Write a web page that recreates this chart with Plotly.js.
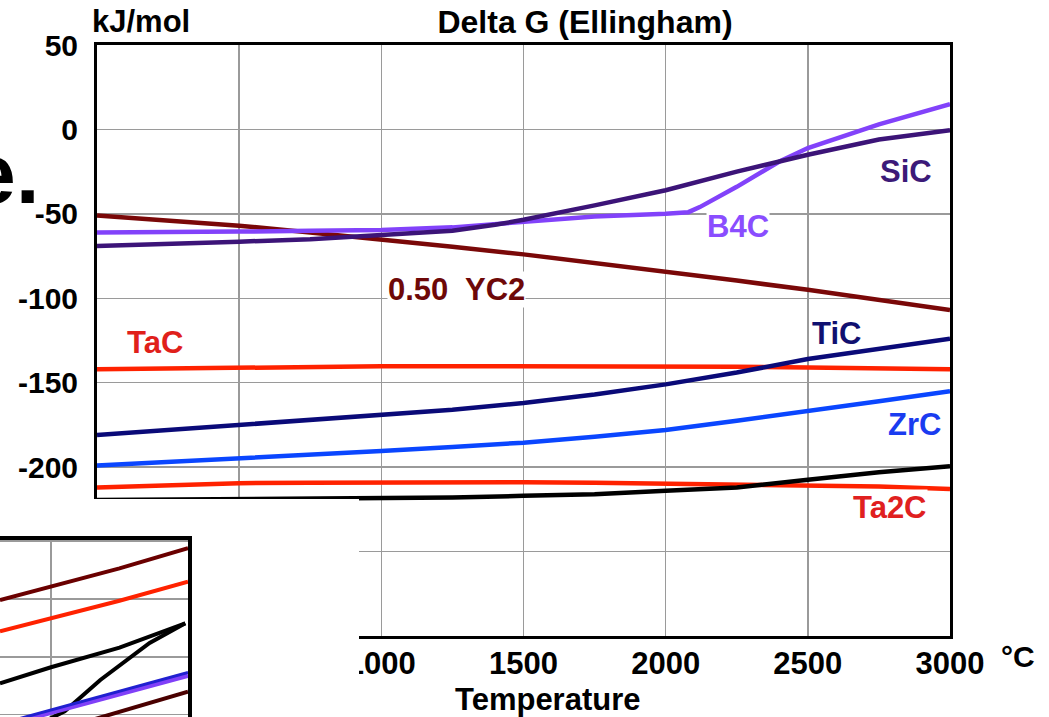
<!DOCTYPE html>
<html>
<head>
<meta charset="utf-8">
<script src="https://cdn.plot.ly/plotly-3.0.1.min.js"></script>
<style>html,body{margin:0;padding:0;background:#fff;}#chart{width:1049px;height:717px;}</style>
</head>
<body>
<div id="chart"></div>
<script>
// ---- main chart data (temperature in °C, ΔG in kJ/mol) ----
const temps = [0, 250, 500, 750, 1000, 1250, 1500, 1750, 2000, 2250, 2500, 2750, 3000];
const sicTemps = [0, 250, 500, 750, 1000, 1250, 1400, 1500, 1750, 2000, 2250, 2500, 2750, 3000];
const sicDG = [-69, -68, -66.5, -65, -62.5, -60, -56.5, -53.5, -45, -36, -25, -15, -6, -0.5];
const b4cTemps = [0, 250, 500, 750, 1000, 1250, 1500, 1750, 2000, 2080, 2120, 2250, 2400, 2500, 2750, 3000];
const b4cDG = [-61, -61, -60.5, -60, -59.5, -58, -55, -51.5, -50, -49, -46, -34, -19, -11, 3, 15];
const yc2DG = [-51, -54, -57, -61, -65, -69.5, -74, -79, -84, -89.5, -95, -101, -107];
const tacDG = [-142, -141.5, -141, -140.5, -140.3, -140.2, -140.2, -140.2, -140.3, -140.6, -141, -141.5, -142];
const ticDG = [-181, -178, -175.5, -172.5, -169.5, -166, -162, -157, -151, -144, -136, -130, -124];
const zrcDG = [-199, -197, -194.5, -192.5, -190.5, -188, -185.5, -182, -178, -172.5, -167, -161, -155];
const ta2cDG = [-212, -210.5, -209.5, -209.2, -209, -209, -209, -209.3, -209.8, -210.5, -211, -211.5, -213];
const blackDG = [-219.5, -219.2, -219, -218.8, -218.5, -218, -217, -216, -214, -212, -207.5, -203, -199.5];

const xTickVals = [0, 500, 1000, 1500, 2000, 2500, 3000];
const xTickText = ['0', '500', '1000', '1500', '2000', '2500', '3000'];
const yTickVals = [-300, -250, -200, -150, -100, -50, 0, 50];
const yTickText = ['-300', '-250', '-200', '-150', '-100', '-50', '0', '50'];

// ---- inset (partially visible second chart) ----
const insetDarkRedT = [814, 1000, 1250, 1500];
const insetDarkRedV = [-101, -89.5, -73.5, -56];
const insetRedT = [814, 1000, 1250, 1500];
const insetRedV = [-128, -117, -101.5, -85];
const insetBlack1T = [814, 1000, 1250, 1490];
const insetBlack1V = [-173, -159, -142, -121];
const insetBlack2T = [900, 1050, 1180, 1360, 1490];
const insetBlack2V = [-215, -197, -170, -138, -121];
const insetBlueT = [814, 1500];
const insetBlueV = [-208, -163.5];
const insetVioletT = [814, 1500];
const insetVioletV = [-210, -166];
const insetBrownT = [1100, 1500];
const insetBrownV = [-208, -180];

const FONT = 'Liberation Sans, Arial, sans-serif';
const W = 1049, H = 717;
const px = v => v / W;
const py = v => 1 - v / H;

function line(x, y, color, width, xa, ya) {
  return {type: 'scatter', mode: 'lines', x: x, y: y, xaxis: xa || 'x', yaxis: ya || 'y',
    line: {color: color, width: width || 4.5}, hoverinfo: 'skip', showlegend: false};
}

const traces = [
  line(temps, yc2DG, '#7a0808'),
  line(temps, tacDG, '#ff2200'),
  line(temps, ta2cDG, '#ff2200'),
  line(temps, blackDG, '#000000'),
  line(temps, zrcDG, '#0a46ff'),
  line(temps, ticDG, '#0a0a78'),
  line(b4cTemps, b4cDG, '#8242fa'),
  line(sicTemps, sicDG, '#3c1478'),
  // occluder subplot (empty)
  {type: 'scatter', mode: 'lines', x: [], y: [], xaxis: 'x2', yaxis: 'y2', showlegend: false, hoverinfo: 'skip'},
  // inset lines
  line(insetDarkRedT, insetDarkRedV, '#6a0000', 4, 'x3', 'y3'),
  line(insetRedT, insetRedV, '#ff2200', 4, 'x3', 'y3'),
  line(insetBlack1T, insetBlack1V, '#000000', 4, 'x3', 'y3'),
  line(insetBlack2T, insetBlack2V, '#000000', 4, 'x3', 'y3'),
  line(insetVioletT, insetVioletV, '#8040f8', 5, 'x3', 'y3'),
  line(insetBlueT, insetBlueV, '#2020d0', 3, 'x3', 'y3'),
  line(insetBrownT, insetBrownV, '#4a0000', 4, 'x3', 'y3')
];

function lab(text, x, y, color, bg) {
  return {text: text, x: x, y: y, xref: 'x', yref: 'y', showarrow: false,
    font: {family: FONT, size: 31, weight: 'bold', color: color},
    bgcolor: bg ? '#ffffff' : 'rgba(0,0,0,0)', borderpad: 0, xanchor: 'center', yanchor: 'middle'};
}

const layout = {
  width: W, height: H, autosize: false,
  margin: {l: 0, r: 0, t: 0, b: 0, pad: 0},
  paper_bgcolor: '#ffffff', plot_bgcolor: '#ffffff',
  showlegend: false,
  title: {text: 'Delta G (Ellingham)', x: px(585), xref: 'container', xanchor: 'center',
    y: py(22), yref: 'container', yanchor: 'middle',
    font: {family: FONT, size: 32, weight: 'bold', color: '#000'}},
  xaxis: {domain: [px(97), px(950)], range: [0, 3000], anchor: 'y',
    tickmode: 'array', tickvals: xTickVals, ticktext: xTickText,
    showline: true, mirror: true, linecolor: '#000', linewidth: 3,
    showgrid: true, gridcolor: '#9a9a9a', gridwidth: 1.5, zeroline: false,
    ticks: '', ticklabelstandoff: -2,
    tickfont: {family: FONT, size: 31, weight: 'bold', color: '#000'}},
  yaxis: {domain: [1 - 636 / H, 1 - 45 / H], range: [-300, 50], anchor: 'x',
    tickmode: 'array', tickvals: yTickVals, ticktext: yTickText,
    showline: true, mirror: true, linecolor: '#000', linewidth: 3,
    showgrid: true, gridcolor: '#9a9a9a', gridwidth: 1.5, zeroline: false,
    ticks: '', ticklabelstandoff: 10,
    tickfont: {family: FONT, size: 30, weight: 'bold', color: '#000'}},
  xaxis2: {domain: [0, px(359)], range: [0, 1], anchor: 'y2', visible: false, fixedrange: true},
  yaxis2: {domain: [0, 1 - 499 / H], range: [0, 1], anchor: 'x2', visible: false, fixedrange: true},
  xaxis3: {domain: [0, px(188)], range: [814, 1500], anchor: 'y3', side: 'top',
    showline: true, linecolor: '#000', linewidth: 4, showgrid: true, gridcolor: '#9a9a9a', gridwidth: 1.5,
    dtick: 500, tick0: 0, showticklabels: false, ticks: '', zeroline: false},
  yaxis3: {domain: [0, 1 - 540 / H], range: [-202, -49], anchor: 'x3', side: 'right',
    showline: true, linecolor: '#000', linewidth: 4, showgrid: true, gridcolor: '#9a9a9a', gridwidth: 1.5,
    dtick: 50, tick0: 0, showticklabels: false, ticks: '', zeroline: false},
  shapes: [
    {type: 'rect', xref: 'x2', yref: 'y2', x0: 0, x1: 1, y0: 0, y1: 1,
      fillcolor: '#ffffff', line: {width: 0}, layer: 'below'}
  ],
  annotations: [
    {text: 'kJ/mol', x: px(141), y: py(22), xref: 'paper', yref: 'paper', showarrow: false,
      xanchor: 'center', yanchor: 'middle', font: {family: FONT, size: 31, weight: 'bold', color: '#000'}},
    {text: 'Temperature', x: px(548), y: py(699), xref: 'paper', yref: 'paper', showarrow: false,
      xanchor: 'center', yanchor: 'middle', font: {family: FONT, size: 31, weight: 'bold', color: '#000'}},
    {text: '°C', x: px(1018), y: py(656), xref: 'paper', yref: 'paper', showarrow: false,
      xanchor: 'center', yanchor: 'middle', font: {family: FONT, size: 30, weight: 'bold', color: '#000'}},
    {text: 'e.', x: px(42), y: py(173), xref: 'paper', yref: 'paper', showarrow: false,
      xanchor: 'right', yanchor: 'middle', font: {family: FONT, size: 86, weight: 'bold', color: '#000'}},
    lab('SiC', 2846, -25, '#3c1a78', false),
    lab('B4C', 2255, -57.5, '#8a4dff', true),
    lab('0.50  YC2', 1263, -95, '#6e0808', true),
    lab('TaC', 204, -126, '#e0201a', false),
    lab('TiC', 2600, -121, '#101070', false),
    lab('ZrC', 2874, -175, '#1a3cf0', false),
    lab('Ta2C', 2790, -224, '#e02020', true)
  ]
};

Plotly.newPlot('chart', traces, layout, {staticPlot: true, displayModeBar: false});
</script>
</body>
</html>
